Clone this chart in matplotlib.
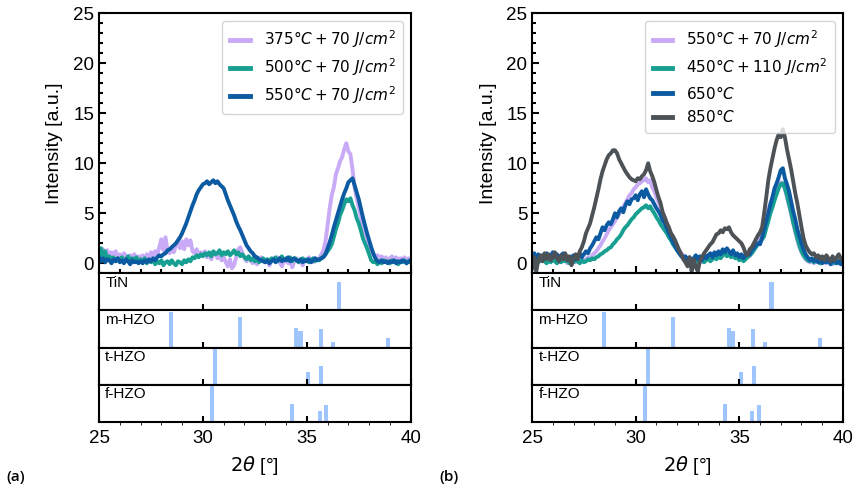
import matplotlib.pyplot as plt
from matplotlib.ticker import MultipleLocator
import numpy as np

# 2theta grid of the scans (0.1 deg steps, 25..40)
two_theta = np.round(np.arange(250, 401) * 0.1, 1)

# panel (a)
a_375 = [1.2, 0.8, 1.4, 1.0, 1.3, 0.7, 1.1, 0.9, 1.2, 0.6,
         0.9, 0.5, 1.0, 0.7, 0.4, 0.8, 0.6, 0.9, 0.3, 0.7,
         0.5, 0.8, 0.4, 0.9, 0.6, 1.1, 0.7, 1.2, 0.9, 1.6,
         2.4, 1.3, 2.6, 1.2, 1.0, 1.6, 1.1, 1.8, 2.1, 1.5,
         2.2, 1.4, 2.4, 1.8, 2.3, 1.2, 1.0, 1.4, 0.8, 1.1,
         0.8, 1.2, 0.6, 1.0, 0.4, 0.9, 1.1, 0.5, 0.8, 0.3,
         0.6, 0.1, -0.3, 0.4, -0.5, -0.2, 0.6, 1.4, 1.6, 1.0,
         0.5, 0.2, 0.7, 0.3, 0.0, 0.4, -0.1, 0.3, 0.6, 0.2,
         0.1, 0.4, -0.2, 0.3, 0.5, 0.2, 0.6, 0.1, -0.3, 0.2,
         0.4, 0.0, 0.3, -0.4, 0.2, 0.5, 0.1, 0.3, -0.2, 0.4,
         0.2, 0.6, 0.3, 0.1, 0.5, 0.4, 0.5, 0.9, 1.3, 2.2,
         3.8, 5.5, 6.8, 7.6, 8.9, 9.5, 10.2, 10.6, 11.4, 12.0,
         11.2, 10.9, 9.4, 7.6, 6.5, 5.6, 4.6, 3.6, 3.0, 2.5,
         1.9, 1.4, 0.9, 0.6, 0.8, 0.5, 0.7, 0.4, 0.6, 0.3,
         0.5, 0.7, 0.3, 0.6, 0.2, 0.5, 0.4, 0.6, 0.2, 0.5,
         0.3]
a_500 = [0.8, 1.5, 0.6, 1.2, 0.4, 0.7, 0.3, 0.6, 0.2, 0.5,
         0.3, 0.6, 0.1, 0.4, 0.7, 0.2, 0.5, 0.3, 0.6, 0.1,
         0.4, 0.2, 0.5, 0.0, 0.3, 0.1, 0.4, -0.1, 0.2, 0.0,
         0.3, -0.2, 0.1, 0.2, -0.1, 0.3, 0.0, -0.2, 0.2, 0.1,
         -0.1, 0.3, 0.1, 0.4, 0.2, 0.6, 0.5, 0.8, 0.6, 0.9,
         0.7, 1.0, 0.8, 1.1, 0.7, 1.2, 0.9, 1.0, 1.3, 0.8,
         1.1, 0.9, 1.2, 0.8, 1.0, 1.3, 0.9, 1.1, 0.7, 0.9,
         0.6, 0.4, 0.7, 0.3, 0.5, 0.2, 0.4, 0.1, 0.3, 0.5,
         0.2, 0.4, 0.1, 0.5, 0.3, 0.6, 0.2, 0.4, 0.7, 0.3,
         0.5, 0.3, 0.6, 0.2, 0.5, 0.4, 0.1, 0.3, 0.5, 0.2,
         0.4, 0.1, 0.3, 0.5, 0.2, 0.4, 0.3, 0.5, 0.7, 0.9,
         1.2, 1.5, 1.9, 2.6, 3.4, 4.0, 4.8, 5.3, 5.9, 6.4,
         6.2, 6.5, 5.8, 5.3, 4.5, 4.0, 3.3, 2.5, 2.0, 1.5,
         0.9, 0.3, 0.1, 0.2, -0.1, 0.2, 0.0, 0.3, 0.1, 0.2,
         0.0, 0.3, 0.1, 0.2, -0.1, 0.2, 0.1, 0.3, 0.0, 0.2,
         0.1]
a_550 = [0.6, 0.2, 0.5, 0.1, 0.4, 0.3, 0.0, 0.4, 0.2, 0.5,
         0.1, 0.3, 0.0, 0.4, 0.2, -0.1, 0.3, 0.1, 0.2, 0.0,
         0.2, 0.0, 0.3, 0.1, 0.4, 0.2, 0.5, 0.3, 0.6, 0.8,
         0.7, 0.9, 1.0, 1.3, 1.4, 1.6, 1.8, 2.0, 2.3, 2.6,
         3.0, 3.5, 4.0, 4.6, 5.2, 5.8, 6.3, 6.9, 7.3, 7.6,
         7.9, 8.0, 8.2, 7.9, 8.1, 8.3, 8.0, 8.2, 7.9, 7.7,
         7.5, 6.9, 6.3, 5.8, 5.3, 4.8, 4.2, 3.7, 3.3, 2.8,
         2.3, 1.8, 1.5, 1.2, 1.0, 0.7, 0.6, 0.4, 0.3, 0.2,
         0.1, 0.3, 0.0, 0.2, 0.4, 0.1, 0.3, 0.5, 0.2, 0.4,
         0.3, 0.6, 0.2, 0.4, 0.5, 0.3, 0.2, 0.4, 0.1, 0.3,
         0.2, 0.4, 0.1, 0.3, 0.5, 0.3, 0.4, 0.5, 0.6, 0.9,
         1.5, 2.1, 2.8, 3.6, 4.3, 5.0, 5.7, 6.4, 7.0, 7.5,
         8.1, 8.3, 8.5, 7.8, 7.1, 6.4, 5.5, 4.6, 3.8, 3.0,
         2.3, 1.6, 1.0, 0.5, 0.2, 0.1, 0.3, 0.1, 0.2, 0.0,
         0.2, 0.1, 0.3, 0.0, 0.2, 0.1, 0.3, 0.2, 0.0, 0.2,
         0.3]

# panel (b)
b_550 = [0.9, 0.4, 0.7, 0.3, 0.6, 0.2, 0.5, 0.1, 0.4, 0.3,
         0.5, 0.2, 0.4, 0.1, 0.3, 0.2, 0.4, 0.0, 0.3, 0.2,
         0.4, 0.1, 0.3, 0.2, 0.5, 0.3, 0.4, 0.6, 0.5, 0.8,
         1.0, 1.2, 1.5, 1.8, 2.2, 2.5, 2.9, 3.3, 3.6, 3.9,
         4.2, 4.6, 4.9, 5.3, 5.6, 6.0, 6.4, 6.8, 7.0, 7.4,
         7.6, 7.9, 8.0, 8.2, 8.3, 8.5, 8.1, 8.3, 7.6, 7.2,
         6.6, 6.1, 5.6, 5.1, 4.6, 4.1, 3.5, 3.0, 2.6, 2.1,
         1.7, 1.3, 1.0, 0.8, 0.6, 0.4, 0.5, 0.3, 0.2, 0.4,
         0.2, 0.3, 0.1, 0.4, 0.3, 0.5, 0.6, 0.4, 0.7, 0.5,
         0.8, 0.6, 0.9, 1.0, 0.8, 1.1, 0.7, 0.9, 0.6, 0.8,
         0.5, 0.7, 0.4, 0.6, 0.8, 0.7, 1.0, 1.3, 1.8, 2.3,
         2.6, 3.1, 3.8, 4.6, 5.3, 6.0, 6.6, 7.1, 7.5, 7.9,
         8.1, 7.9, 7.4, 6.6, 5.8, 4.9, 4.0, 3.1, 2.3, 1.6,
         1.1, 0.7, 0.4, 0.2, 0.1, 0.2, 0.0, 0.2, 0.1, 0.0,
         0.2, 0.1, 0.0, 0.2, 0.1, -0.1, 0.1, 0.2, 0.0, 0.1,
         0.2]
b_450 = [0.6, 0.2, 0.4, 0.1, 0.3, 0.5, 0.2, 0.0, 0.3, 0.1,
         0.4, 0.2, 0.0, 0.3, 0.1, 0.4, 0.2, 0.3, 0.0, 0.2,
         0.1, 0.3, 0.2, 0.0, 0.3, 0.1, 0.2, 0.4, 0.3, 0.5,
         0.4, 0.6, 0.7, 0.9, 1.0, 1.2, 1.3, 1.5, 1.6, 1.9,
         2.1, 2.4, 2.6, 2.9, 3.3, 3.6, 3.8, 4.1, 4.4, 4.6,
         4.9, 5.1, 5.3, 5.5, 5.6, 5.8, 5.5, 5.7, 5.3, 5.0,
         4.6, 4.3, 3.9, 3.6, 3.3, 3.0, 2.6, 2.3, 1.9, 1.6,
         1.3, 1.0, 0.8, 0.6, 0.5, 0.3, 0.4, 0.2, 0.3, 0.1,
         0.3, 0.2, 0.4, 0.1, 0.3, 0.5, 0.2, 0.4, 0.6, 0.4,
         0.7, 0.5, 0.8, 1.0, 0.7, 0.9, 0.6, 0.8, 0.5, 0.6,
         0.3, 0.5, 0.2, 0.4, 0.6, 0.8, 1.0, 1.3, 1.6, 1.9,
         2.1, 2.4, 2.7, 3.5, 4.2, 5.0, 5.6, 6.3, 6.9, 7.5,
         7.9, 8.0, 7.5, 6.8, 5.9, 5.1, 4.1, 3.3, 2.5, 1.8,
         1.2, 0.8, 0.5, 0.3, 0.2, 0.4, 0.1, 0.3, 0.2, 0.0,
         0.3, 0.1, 0.2, 0.4, 0.1, 0.2, 0.0, 0.3, 0.1, 0.2,
         0.1]
b_650 = [0.4, 1.0, 0.5, 0.9, 0.3, 0.8, 0.6, 1.0, 0.5, 0.7,
         1.1, 0.6, 0.9, 0.4, 0.8, 1.0, 0.5, 0.7, 0.3, 0.6,
         0.8, 0.4, 0.7, 1.0, 0.6, 0.9, 1.2, 1.0, 1.5, 1.8,
         2.2, 2.6, 2.4, 3.0, 3.6, 3.3, 3.8, 4.1, 3.9, 4.4,
         5.0, 4.6, 5.2, 5.5, 5.1, 5.8, 6.2, 5.9, 6.4, 6.5,
         6.8, 6.3, 6.9, 7.2, 6.6, 7.4, 6.9, 6.5, 6.3, 5.9,
         5.5, 5.2, 4.8, 4.3, 4.0, 3.5, 3.0, 2.6, 2.1, 1.7,
         1.3, 1.0, 0.7, 0.5, 0.7, 0.3, 0.6, 0.2, 0.5, 0.8,
         0.4, 0.7, 0.3, 0.9, 0.5, 0.8, 1.0, 0.6, 1.1, 0.8,
         1.2, 0.9, 1.4, 1.1, 1.5, 1.2, 0.9, 1.3, 0.8, 1.0,
         0.6, 0.9, 0.5, 0.8, 1.0, 0.9, 1.3, 1.5, 1.8, 2.0,
         1.9, 2.6, 3.4, 4.2, 5.0, 5.9, 6.6, 7.5, 8.0, 8.6,
         9.3, 9.5, 8.5, 7.9, 7.2, 6.2, 5.2, 4.4, 3.4, 2.7,
         2.0, 1.4, 0.9, 0.6, 0.3, 0.5, 0.2, 0.4, 0.1, 0.3,
         0.0, 0.3, 0.1, 0.4, -0.1, 0.2, 0.3, 0.0, 0.2, -0.1,
         0.1]
b_850 = [-0.5, 0.6, -0.8, 0.3, 0.8, 0.2, 1.0, 0.4, 0.9, 0.3,
         0.6, 1.1, 0.5, 0.2, 0.8, 0.4, 1.0, 0.3, 0.7, -0.2,
         0.5, 0.9, 0.4, 1.2, 1.6, 2.2, 3.0, 3.5, 4.0, 4.8,
         5.6, 6.5, 7.4, 8.4, 9.2, 9.8, 10.4, 10.8, 11.0, 11.3,
         11.3, 11.0, 10.4, 10.0, 9.6, 9.2, 8.9, 8.6, 8.4, 8.3,
         8.2, 8.5, 8.4, 8.7, 8.9, 9.3, 10.0, 9.2, 8.7, 8.1,
         7.3, 6.6, 6.0, 5.1, 4.6, 4.0, 3.6, 3.0, 2.7, 2.3,
         1.8, 1.3, 0.9, 0.4, 0.1, -0.3, 0.6, -0.8, 0.4, -0.4,
         -0.8, 0.3, 0.6, 1.0, 1.3, 1.6, 1.9, 2.1, 2.5, 2.9,
         3.0, 3.3, 3.1, 3.5, 3.4, 3.6, 3.1, 2.8, 2.6, 2.4,
         2.2, 2.0, 1.6, 1.0, 0.8, 1.4, 1.6, 2.0, 2.4, 2.8,
         3.1, 3.6, 5.0, 6.6, 8.3, 9.5, 10.5, 11.5, 12.3, 12.9,
         12.6, 13.4, 12.6, 11.4, 10.4, 9.4, 8.2, 7.0, 6.0, 4.8,
         3.6, 2.5, 1.8, 1.4, 1.1, 0.9, 1.0, 0.6, 0.8, 0.4,
         0.7, 0.3, 0.8, 0.5, 0.2, 0.7, 0.3, 0.6, 0.9, 0.4,
         0.6]

labels_a = [r'$375°C + 70\ J/cm^2$', r'$500°C + 70\ J/cm^2$', r'$550°C + 70\ J/cm^2$']
labels_b = [r'$550°C + 70\ J/cm^2$', r'$450°C + 110\ J/cm^2$', r'$650°C$', r'$850°C$']
colors_a = ['#c9aaf6', '#17a091', '#0b5aa2']
colors_b = ['#c9aaf6', '#17a091', '#0b5aa2', '#4d5257']

# reference patterns: (name, positions, relative intensities)
ref_names = ['TiN', 'm-HZO', 't-HZO', 'f-HZO']
ref_pos = [[36.55],
           [28.45, 31.78, 34.49, 34.7, 35.67, 36.25, 38.9],
           [30.6, 35.07, 35.7],
           [30.43, 34.3, 35.62, 35.93]]
ref_int = [[81],
           [100, 86, 55, 47, 51, 16, 27],
           [100, 37, 52],
           [100, 50, 30, 47]]

plt.rcParams['font.family'] = ['Liberation Sans', 'DejaVu Sans']
plt.rcParams['mathtext.fontset'] = 'dejavusans'
plt.rcParams['axes.linewidth'] = 1.5

fig = plt.figure(figsize=(8.61, 4.9), dpi=100)


def make_panel(left, right, curves, labels, colors, tag):
    gs = fig.add_gridspec(5, 1, left=left, right=right, top=0.973, bottom=0.139,
                          height_ratios=[7, 1, 1, 1, 1], hspace=0)
    ax = fig.add_subplot(gs[0])
    for y, lab, c in zip(curves, labels, colors):
        ax.plot(two_theta, y, color=c, lw=2.8, label=lab)
    ax.set_xlim(25, 40)
    ax.set_ylim(-1, 25)
    ax.xaxis.set_major_locator(MultipleLocator(5))
    ax.xaxis.set_minor_locator(MultipleLocator(1))
    ax.yaxis.set_major_locator(MultipleLocator(5))
    ax.yaxis.set_minor_locator(MultipleLocator(1))
    ax.tick_params(which='both', direction='in', width=1.5, labelsize=13.5)
    ax.tick_params(which='major', length=5)
    ax.tick_params(which='minor', length=3)
    ax.tick_params(axis='x', labelbottom=False)
    ax.set_ylabel('Intensity [a.u.]', fontsize=14, labelpad=7)
    ax.legend(loc='upper right', fontsize=11, handlelength=1.3, borderpad=0.5,
              labelspacing=0.42, handletextpad=0.9)
    for h in ax.get_legend().get_lines():
        h.set_linewidth(3.5)

    for i, name in enumerate(ref_names):
        sub = fig.add_subplot(gs[i + 1], sharex=ax)
        sub.bar(ref_pos[i], ref_int[i], width=0.2, color='#9ec5fe')
        sub.set_ylim(0, 104)
        sub.set_yticks([])
        sub.tick_params(axis='x', direction='in', width=1.5, length=4,
                        labelsize=13.5, pad=6)
        sub.text(0.02, 0.93, name, transform=sub.transAxes, fontsize=11, va='top')
        if i < 3:
            sub.tick_params(axis='x', labelbottom=False)
    sub.set_xticks([25, 30, 35, 40])
    sub.set_xlabel(r'$2\theta$ [°]', fontsize=14, labelpad=5)
    fig.text(left - 0.108, 0.018, tag, fontsize=11, family='Open Sans',
             fontweight='semibold')


make_panel(0.115, 0.477, [a_375, a_500, a_550], labels_a, colors_a, '(a)')
make_panel(0.618, 0.979, [b_550, b_450, b_650, b_850], labels_b, colors_b, '(b)')

fig.savefig('out.png', dpi=100)
